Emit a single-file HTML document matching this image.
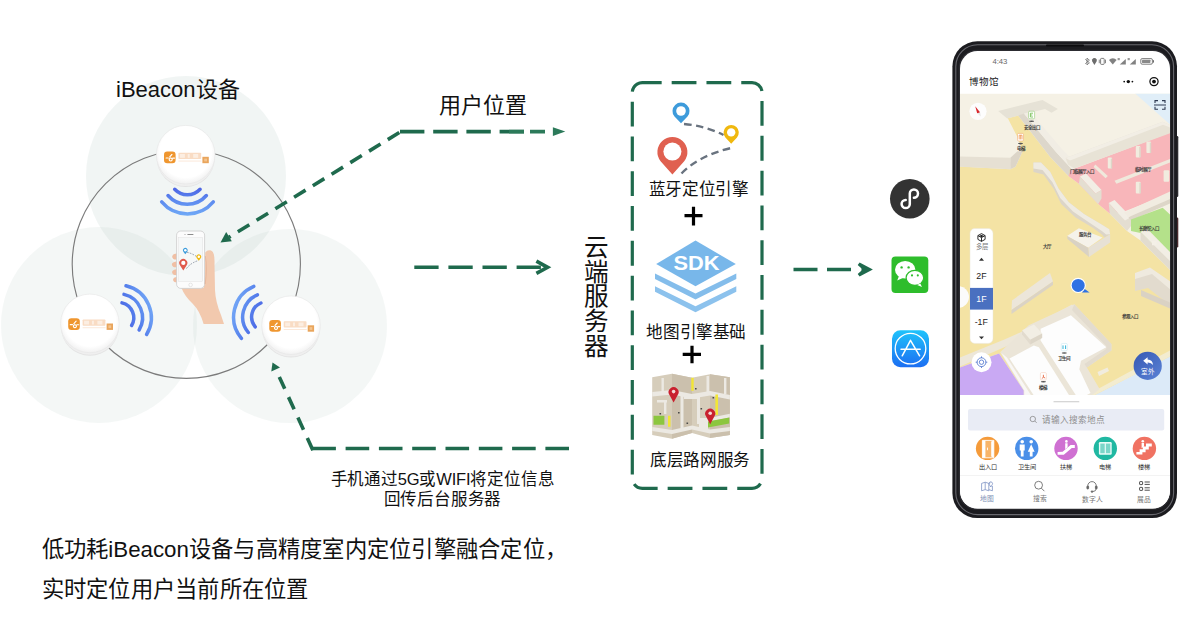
<!DOCTYPE html>
<html lang="zh-CN">
<head>
<meta charset="utf-8">
<title>iBeacon 室内定位方案</title>
<style>
html,body{margin:0;padding:0;background:#fff;}
body{width:1199px;height:623px;position:relative;overflow:hidden;font-family:"Liberation Sans",sans-serif;color:#111;}
#art{position:absolute;left:0;top:0;width:1199px;height:623px;}
.t{position:absolute;white-space:nowrap;line-height:1;color:#111;}
svg text{font-family:"Liberation Sans",sans-serif;}
</style>
</head>
<body>
<svg id="art" width="1199" height="623" viewBox="0 0 1199 623">
<defs>
  <linearGradient id="wifiT" gradientUnits="userSpaceOnUse" x1="187" y1="186" x2="187" y2="215">
    <stop offset="0" stop-color="#4a5ee2"/><stop offset="0.45" stop-color="#5b86ee"/><stop offset="1" stop-color="#6fa8f6"/>
  </linearGradient>
  <linearGradient id="wifiL" gradientUnits="userSpaceOnUse" x1="118" y1="318" x2="150" y2="306">
    <stop offset="0" stop-color="#4a5ee2"/><stop offset="0.55" stop-color="#5580ec"/><stop offset="1" stop-color="#6fa2f5"/>
  </linearGradient>
  <linearGradient id="wifiR" gradientUnits="userSpaceOnUse" x1="267" y1="317" x2="235" y2="307">
    <stop offset="0" stop-color="#4a5ee2"/><stop offset="0.55" stop-color="#5580ec"/><stop offset="1" stop-color="#6fa2f5"/>
  </linearGradient>
  <radialGradient id="discG" cx="0.5" cy="0.45" r="0.55">
    <stop offset="0.8" stop-color="#ffffff"/><stop offset="1" stop-color="#f1f1f1"/>
  </radialGradient>
  <g id="bdisc">
<circle cx="0" cy="3.300" r="29" fill="#e3e3e3"/>
    <circle cx="0" cy="2.200" r="29.200" fill="#efefef"/>
    <circle cx="0" cy="0" r="29.300" fill="url(#discG)" stroke="#e6e6e6" stroke-width="0.600"/>
  </g>
  <g id="blogo">
    <rect x="-21.700" y="-5.100" width="11.600" height="11.600" rx="3.200" fill="#ef962f"/>
    <path d="M-19.600 1.300 h2.200 m2.400 0 a1.500 1.500 0 1 0 0.010 0 m-1 -1.100 l2.200 -2.400 m0.800 3.600 h1.800" stroke="#fff" stroke-width="1.150" fill="none" stroke-linecap="round"/>
    <rect x="-7.300" y="-3.900" width="22.800" height="6.200" rx="0.800" fill="#f9dcc4"/>
    <rect x="-5.800" y="-2.700" width="5" height="3.800" fill="#fdf3ea" opacity="0.800"/><rect x="2" y="-2.700" width="2" height="3.800" fill="#fdf3ea" opacity="0.800"/><rect x="7.500" y="-2.700" width="5" height="3.800" fill="#fdf3ea" opacity="0.800"/>
    <rect x="-7.300" y="3.900" width="23" height="0.900" fill="#fbe6d5"/>
    <rect x="16.700" y="0.100" width="6.400" height="6.400" fill="#e9a55c"/>
    <rect x="18.500" y="1.900" width="2.800" height="2.800" fill="#f3c48f"/>
  </g>
</defs>

<!-- ===== left cluster : coverage circles ===== -->
<g id="coverage">
  <circle cx="186" cy="176" r="100" fill="#b5c9c2" fill-opacity="0.19"/>
  <circle cx="99" cy="325" r="98" fill="#b5c9c2" fill-opacity="0.15"/>
  <circle cx="290" cy="326" r="97" fill="#b5c9c2" fill-opacity="0.15"/>
  <circle cx="186.300" cy="264.300" r="114.100" fill="none" stroke="#7b7b7b" stroke-width="1.150"/>
</g>

<!-- beacons -->
<use href="#bdisc" x="185.700" y="154.700"/><use href="#blogo" x="185.700" y="156.700"/>
<use href="#bdisc" x="89.900" y="323.400"/><use href="#blogo" x="89.900" y="323.400"/>
<use href="#bdisc" x="291" y="325.200"/><use href="#blogo" x="291" y="325.200"/>

<!-- wifi arcs -->
<g id="wifi" fill="none" stroke-width="3.500" stroke-linecap="round">
  <g stroke="url(#wifiT)">
    <path d="M174.7 189.3 A17.4 17.4 0 0 0 200.1 189.3"/>
    <path d="M168.0 195.5 A25.4 25.4 0 0 0 206.4 195.5"/>
    <path d="M161.7 201.9 A33.7 33.7 0 0 0 213.3 201.9"/>
  </g>
  <g stroke="url(#wifiL)">
    <path d="M122.0 302.9 A15.2 15.2 0 0 1 131.6 325.5"/>
    <path d="M124.0 294.4 A23.9 23.9 0 0 1 139.1 330.0"/>
    <path d="M126.0 285.8 A32.7 32.7 0 0 1 146.6 334.5"/>
  </g>
  <g stroke="url(#wifiR)">
    <path d="M255.2 326.8 A15.2 15.2 0 0 1 260.9 303.0"/>
    <path d="M248.3 332.5 A24.1 24.1 0 0 1 257.4 294.8"/>
    <path d="M241.4 338.3 A33.2 33.2 0 0 1 253.8 286.4"/>
  </g>
</g>

<!-- hand + phone -->
<g id="hand">
  <path d="M181.500 288 L203.500 288 L206 262 Q206.500 251 210.500 250.500 Q215 251 214.500 264 L215 290 Q215.500 302 221 315 L224 324 L203.600 324 Q200 311 192.500 303.500 Q184.500 296 181.500 288Z" fill="#f2c9ae"/>
  <path d="M177.200 253.600 q-5.300 0.400 -5 3.300 q0.400 2.900 5 2.500z M177.200 261.400 q-5.600 0.400 -5.300 3.300 q0.400 2.900 5.300 2.500z M177.200 269.200 q-5.400 0.400 -5.100 3.300 q0.400 2.900 5.100 2.500z M177.400 277 q-4.600 0.400 -4.300 3 q0.400 2.600 4.300 2.300z" fill="#f0bfa4"/>
  <rect x="176.600" y="231" width="28" height="57.400" rx="4.200" fill="#fcfcfc" stroke="#cbcbcb" stroke-width="0.800"/>
  <rect x="178.700" y="237.700" width="24" height="43.500" fill="#f6f8f8" stroke="#dcdcdc" stroke-width="0.400"/>
  <rect x="187.300" y="233.900" width="6.200" height="1" rx="0.500" fill="#8d8d8d"/>
  <circle cx="185" cy="234.400" r="0.500" fill="#8d8d8d"/>
  <circle cx="190.600" cy="284.900" r="1.800" fill="none" stroke="#cfcfcf" stroke-width="0.500"/>
  <path d="M187 252.300 q5 1 10 4.500 M186.500 268.500 q4 -5.500 12 -8" stroke="#7a8594" stroke-width="0.800" stroke-dasharray="1.700 1.200" fill="none"/>
  <path d="M185.300 254.200 l-1.900 -2.400 a2.400 2.400 0 1 1 3.800 0z" fill="#3b9bdc"/>
  <circle cx="185.300" cy="250.300" r="1.250" fill="#fff"/>
  <path d="M198.800 260.700 l-1.900 -2.400 a2.400 2.400 0 1 1 3.800 0z" fill="#f0b90f"/>
  <circle cx="198.800" cy="256.800" r="1.250" fill="#fff"/>
  <path d="M183.300 270.600 l-3.200 -5.200 a4 4 0 1 1 6.400 0z" fill="#e05a4c"/>
  <circle cx="183.300" cy="262.900" r="2.100" fill="#fff"/>
  <path d="M205.200 252.500 Q208 249 211.500 251 Q214.500 254 213.800 264 L213.800 284 Q209 288.500 204.900 286.500Z" fill="#f2c9ae"/>
  <path d="M205.300 256 Q207.500 268 205.200 284" fill="none" stroke="#e3b095" stroke-width="0.700"/>
</g>

<!-- ===== arrows ===== -->
<g id="arrows" fill="none" stroke="#1f6a4d" stroke-width="3.6">
  <!-- user position : diagonal + horizontal -->
  <path d="M401 131.500 L229 237.200" stroke-dasharray="13.500 8.500" stroke-dashoffset="-2"/>
  <path d="M220.500 242.400 l11.300 -1.200 l-5.600 -9.200z" fill="#1f6a4d" stroke="none"/>
  <path d="M400 131.600 H524" stroke-dasharray="24.400 8.800"/>
  <path d="M509 131.600 H524 M530 131.600 H545" stroke="#2c7a5a"/>
  <path d="M565.300 131.600 l-12.400 -4.300 v8.600z" fill="#2c7a5a" stroke="none"/>
  <!-- middle arrow -->
  <path d="M414.300 267.300 H546" stroke-dasharray="24.300 9.800"/>
  <path d="M536.400 261.200 L547.600 267.300 L536.400 273.400" stroke-linejoin="miter"/>
  <!-- return arrow -->
  <path d="M569 448.500 H312.300" stroke-dasharray="23.600 9.700"/>
  <path d="M312.900 450.200 L279.300 377" stroke-dasharray="13.400 9.100"/>
  <path d="M272.500 362.400 L271.300 371.400 L280 367.400Z" fill="#1f6a4d" stroke="none"/>
  <!-- to phone -->
  <path d="M793.500 269.500 H852" stroke-dasharray="24 9.500"/>
  <path d="M872.900 269.500 l-13.300 -7.100 l-1.900 2.700 l5 4.400 l-5 4.400 l1.900 2.700z" fill="#1f6a4d" stroke="none"/><path d="M861.500 269.500 H868" />
</g>

<!-- ===== cloud services box ===== -->
<path d="M637.07 84.07 A10 10 0 0 1 642.30 82.60 H752.00 A10 10 0 0 1 762.00 92.60 V478.30 A10 10 0 0 1 752.00 488.30 H642.30 A10 10 0 0 1 632.30 478.30 V92.60 A10 10 0 0 1 637.07 84.07" fill="none" stroke="#1f6a4d" stroke-width="3.200" stroke-dasharray="24.800 10"/>

<!-- bluetooth positioning engine icon -->
<g id="pins">
  <path d="M684 124 Q706 126 723.500 135" fill="none" stroke="#69737f" stroke-width="2.400" stroke-dasharray="7.500 4.500"/>
  <path d="M681.500 173.500 Q699 155.500 731 148" fill="none" stroke="#69737f" stroke-width="2.400" stroke-dasharray="7.500 4.500"/>
  <path d="M681 123.300 L674.500 116.600 A8.500 8.500 0 1 1 687.500 116.600Z" fill="#3d9bdb"/>
  <circle cx="681" cy="111" r="4.800" fill="#fff"/>
  <path d="M731.200 143.800 L725.400 137.400 A7.600 7.600 0 1 1 737 137.400Z" fill="#f0b80e"/>
  <circle cx="731.200" cy="132.400" r="4.200" fill="#fff"/>
  <path d="M672.400 174.500 L660.600 161.300 A15 15 0 1 1 684.200 161.300Z" fill="#e06050"/>
  <circle cx="672.400" cy="151.600" r="9" fill="#fff"/>
</g>

<!-- plus signs -->
<path d="M684.500 215.700 H702.500 M693.500 206.700 V225.400 M682.700 354.300 H701 M692 345.800 V363.200" stroke="#000" stroke-width="3.200" fill="none"/>

<!-- SDK icon -->
<g id="sdk">
  <path d="M695.500 240.600 L735.800 264 L695.500 286.300 L656.200 264Z" fill="#78b7ea"/>
  <path d="M655 273.500 L695.500 293.500 L736.300 273.500 L736.300 279 L695.500 299.500 L655 279Z" fill="#84bdeb"/>
  <path d="M655 286.300 L695.500 306.300 L736.300 286.300 L736.300 291.800 L695.500 312.300 L655 291.800Z" fill="#8cc2ed"/>
  <text x="696.600" y="270.400" font-size="20" font-weight="bold" fill="#fff" text-anchor="middle" textLength="46" lengthAdjust="spacingAndGlyphs">SDK</text>
</g>

<!-- road network map icon -->
<g id="roadmap">
  <path d="M652.200 377.200 L672 373.700 L692 377.800 L710 374.200 L729.900 377.200 L729.900 435 L710 438 L692 433 L672 438.800 L652.200 435Z" fill="#d6cdbb"/>
  <path d="M672 373.700 L692 377.800 L692 433 L672 438.800Z M710 374.200 L729.900 377.200 L729.900 435 L710 438Z" fill="#cbc0ad"/>
  <path d="M652.200 392 L672 390 L692 394 L710 391 L729.900 395 V399.500 L710 395.500 L692 398.500 L672 394.500 L652.200 396.500Z" fill="#ece9e3"/>
  <path d="M652.200 427 L672 430 L692 425.500 L710 429.500 L729.900 427 V431 L710 433.500 L692 429.500 L672 434 L652.200 431Z" fill="#ece9e3"/>
  <path d="M661.500 378 h2.400 v14 h-2.400z M680.500 396 h3 v32 h-3z M684 396 h14 v3 h-14z M697 396 h3 v28 h-3z M698 419 h10 v3 h-10z M706.500 376 h2.600 v16 h-2.600z M724 378 h2.400 v16 h-2.400z M657 400 h10 v2.400 h-10z M664 402 h2.400 v12 h-2.400z" fill="#ece9e3"/>
  <path d="M699 418 h9 v11 h-9z M708 418.200 L729.900 413.800 V417.600 L708 421.800Z" fill="#ece9e3"/>
  <path d="M653.500 415.700 H664.400 V424.700 H653.500Z M708 421.500 L729.200 417.500 V423.500 L708 427.500Z" fill="#8cc63f"/>
  <path d="M691.300 377.800 h2.400 v13 h-2.400z M715.400 394.500 h2.600 v20.500 h-2.600z M668 415.700 h2.500 v11 h-2.500z" fill="#f2e635"/>
  <path d="M673.600 402.400 L669.500 395 A5 5 0 1 1 677.700 395Z M710.200 424.200 L706.100 416.600 A5 5 0 1 1 714.300 416.600Z" fill="#c9202e"/>
  <circle cx="673.600" cy="391.600" r="1.800" fill="#f3d9d6"/>
  <circle cx="710.200" cy="413.200" r="1.800" fill="#f3d9d6"/>
  <path d="M695 388h1.600v1.600h-1.600z M712.500 397h1.600v1.600h-1.600z M700.500 408h1.600v1.600h-1.600z M659.500 413h1.600v1.600h-1.600z M678 412h1.600v1.600h-1.600z M686.500 422.500h1.600v1.600h-1.600z" fill="#4a4a4a"/>
</g>

<!-- ===== app icons ===== -->
<g id="appicons">
  <circle cx="909.800" cy="198.800" r="19.800" fill="#333333"/>
  <path d="M909.800 204 V193.600 a4.100 4.100 0 1 1 4.100 4.100 M909.800 193.600 V204 a4.100 4.100 0 1 1 -4.100 -4.100" fill="none" stroke="#fff" stroke-width="2.500" stroke-linecap="round"/>
  <rect x="891.500" y="256.500" width="36.800" height="36.500" rx="4" fill="#2ebd2c"/>
  <ellipse cx="905.200" cy="269.700" rx="10.200" ry="8.800" fill="#fff"/>
  <path d="M899 276 l-1.800 4.600 l5.600 -2.600z" fill="#fff"/>
  <ellipse cx="914.900" cy="277.800" rx="8.800" ry="7.500" fill="#fff" stroke="#2ebd2c" stroke-width="1.200"/>
  <path d="M920.300 283.600 l1.700 3.400 l-4.800 -1.900z" fill="#fff"/>
  <circle cx="901.600" cy="267.400" r="1.200" fill="#2ebd2c"/><circle cx="908.600" cy="267.400" r="1.200" fill="#2ebd2c"/>
  <circle cx="912" cy="275.400" r="1.050" fill="#2ebd2c"/><circle cx="917.800" cy="275.400" r="1.050" fill="#2ebd2c"/>
  <linearGradient id="asG" x1="0" y1="0" x2="0" y2="1"><stop offset="0" stop-color="#1fc3fb"/><stop offset="1" stop-color="#1c6ef2"/></linearGradient>
  <rect x="892" y="330.200" width="37" height="37" rx="8.500" fill="url(#asG)"/>
  <circle cx="910.500" cy="348.600" r="15.300" fill="none" stroke="#fff" stroke-width="1.300"/>
  <path d="M910.500 340.400 L902.200 355.800 M910.500 340.400 L919.600 355.800 M901 349.200 H920.200" stroke="#fff" stroke-width="1.500" fill="none" stroke-linecap="round"/>
</g>

<!-- ===== phone ===== -->
<g id="phone">
  <rect x="1175.500" y="136" width="2.800" height="61" rx="1.200" fill="#2a2a2e"/>
  <rect x="1175.500" y="217.500" width="2.800" height="30" rx="1.200" fill="#4a2a2e"/>
  <rect x="952.400" y="41.300" width="224.600" height="476.800" rx="25" ry="25" fill="#1b1b1f"/>
  <rect x="955.800" y="44.800" width="217.800" height="469.800" rx="21.800" ry="21.800" fill="none" stroke="#68686e" stroke-width="1.100"/>
  <rect x="958.600" y="49.800" width="212.600" height="460" rx="18.500" ry="18.500" fill="#2c2c31"/>
  <clipPath id="scr"><rect x="960" y="51" width="210" height="457.600" rx="17.500" ry="17.500"/></clipPath>
  <g clip-path="url(#scr)">
    <rect x="960" y="51" width="210" height="458" fill="#fff"/>
    <g id="map">
      <clipPath id="mapclip"><rect x="960" y="93.700" width="210" height="301.300"/></clipPath>
      <g clip-path="url(#mapclip)">
      <rect x="960" y="92" width="210" height="304" fill="#f5f1e5"/>
      <!-- blue sky patch top right -->
      <path d="M1133.500 92 L1171 92 L1171 125.500 Z" fill="#e0eef8"/>
      <!-- yellow hall floor -->
      <path d="M1007.800 118.200 L1018.100 115.400 L1050 156.700 L1068.300 176 L1078.900 183.700 L1098.200 203.900 L1109.700 213.600 L1127 230.900 L1140.500 240.500 L1165.600 265.600 L1171 271 L1171 357 L1131 376.500 L1095.600 396 L1023.800 396 L1023.800 390.600 L999 353.500 L960 367.600 L960 166.500 L1010.400 169.300 L1015.500 166.800 L1022.600 151.300 L1017.500 137.200 Z" fill="#f4e3a4"/>
      <!-- upper-left block side faces -->
      <path d="M960 156.500 L1010.400 157.800 L1010.400 169.300 L960 166.800 Z" fill="#e6e0d3"/>
      <path d="M1010.400 157.800 L1017.500 151.300 L1022.600 151.300 L1015.500 166.800 L1010.400 169.300 Z" fill="#dcd5c8"/>
      <!-- top wall band -->
      <path d="M998.200 110.900 L1042.500 100 L1057.900 109 L1051.500 112.800 L1045 109 L1007.200 118.600 Z" fill="#e6e2d6"/>
      <!-- long diagonal wall W1 : face + top -->
      <path d="M1018.100 115.400 L1023.900 113.500 L1056 152 L1074 171.500 L1068.300 176 L1050 156.700 Z" fill="#ddd7cb"/>
      <path d="M1023.900 113.500 L1030.500 112 L1062 149 L1080 168 L1074 171.500 L1056 152 Z" fill="#f1ede4"/>
      <!-- pink hall -->
      <path d="M1071 170 L1171 132 L1171 193 L1123 212 L1109.700 213.600 L1098.200 203.900 L1078.900 183.700 L1068.300 176 Z" fill="#f8b6ba"/>
      <!-- pink top wall band -->
      <path d="M1065.600 158 L1162.600 121.800 L1171 125.300 L1171 133 L1074.400 168.500 L1068 164.500 Z" fill="#e8e3d6"/>
      <path d="M1065.600 158 L1162.600 121.800 L1171 125.300 L1171 127.800 L1163 124.800 L1070 160.500 Z" fill="#f2eee5"/>
      <!-- pink interior walls / pillars -->
      <path d="M1114.500 180.800 L1171 158.500 L1171 162 L1116.500 183.800 Z" fill="#efe9dc"/>
      <path d="M1095.300 164.400 L1107.800 176 L1105.600 178.200 L1093.600 167 Z" fill="#efe9dc"/>
      <g fill="#f1ecdf">
        <rect x="1107.800" y="157.600" width="4.200" height="11" rx="1"/>
        <rect x="1135.800" y="146" width="4.600" height="11.400" rx="1"/>
        <rect x="1146.400" y="141.600" width="4.600" height="11.400" rx="1"/>
        <rect x="1163.600" y="170.200" width="5.600" height="11.600" rx="1"/>
        <rect x="1135.800" y="181.800" width="4.800" height="11.600" rx="1"/>
      </g>
      <g fill="#ddd6c8">
        <rect x="1110.800" y="158.600" width="1.400" height="10"/>
        <rect x="1139.200" y="147" width="1.400" height="10.400"/>
        <rect x="1149.800" y="142.600" width="1.400" height="10.400"/>
        <rect x="1139.400" y="182.800" width="1.400" height="10.600"/>
      </g>
      <!-- wall block W2 -->
      <path d="M1079.900 176.500 L1086 173.500 L1101.500 190 L1095.500 193.500 Z" fill="#f2eee5"/>
      <path d="M1079.900 176.500 L1095.500 193.500 L1101.500 190 L1101.500 198.500 L1098.200 203.900 L1078.900 183.700 Z" fill="#e4ded1"/>
      <!-- wall block W3 -->
      <path d="M1108.700 203 L1114.500 200 L1131 217 L1125 220.500 Z" fill="#f2eee5"/>
      <path d="M1108.700 203 L1125 220.500 L1131 217 L1131 226 L1127 230.900 L1109.700 213.600 Z" fill="#e4ded1"/>
      <!-- wall separating pink / green -->
      <path d="M1124.200 212.600 L1170.400 191.400 L1171 198.500 L1131 216 L1128.500 217.500 Z" fill="#f1ece1"/>
      <path d="M1128.500 217.500 L1131 216 L1171 198.500 L1171 203 L1131 220.500 Z" fill="#ddd6c8"/>
      <!-- green hall -->
      <path d="M1131 219.500 L1162.700 207.800 L1171 215.500 L1171 259 L1140.500 233 L1131 230.900 Z" fill="#b4e18a"/>
      <!-- wall W4 along bottom of green -->
      <path d="M1140.500 232 L1147 228.500 L1171 253 L1171 262 Z" fill="#f2eee5"/>
      <path d="M1140.500 232 L1171 262 L1171 271 L1165.600 265.600 L1140.500 240.500 Z" fill="#e2dccf"/>
      <path d="M1152 240.800 h4.500 v4.500 h-4.500z" fill="#f4f0e7"/>
      <!-- winding ramp -->
      <path d="M1033.4 162.6 L1041.0 162.6 L1050.3 171.9 L1058.7 188.7 L1068.8 202.2 L1084.0 214.0 L1100.8 224.1 L1109.3 229.2 L1110.1 234.2 L1104.2 237.6 L1102.5 235.0 L1092.4 227.5 L1075.6 217.4 L1061.2 203.9 L1053.7 188.7 L1043.5 174.4 L1033.4 171.9 Z" fill="#dcd5c8"/>
      <path d="M1033.4 162.6 L1041.0 162.6 L1050.3 171.9 L1058.7 188.7 L1068.8 202.2 L1084.0 214.0 L1100.8 224.1 L1109.3 229.2 L1110.1 234.2 L1106.1 234.4 L1101.9 230.9 L1089.2 222.4 L1073.0 211.6 L1060.2 198.1 L1052.4 182.3 L1042.5 169.9 L1033.4 168.4 Z" fill="#efebe1"/>
      <!-- service desk -->
      <path d="M1067.100 235.900 L1078.900 228.300 L1102.500 237.600 L1088.200 247.700 Z" fill="#f5f2ea"/>
      <path d="M1088.200 247.700 L1110.100 234.200 L1110.100 242.600 L1089 257 Z" fill="#e7e1d5"/>
      <path d="M1067.100 235.900 L1088.200 247.700 L1089 257 L1067.500 239 Z" fill="#d9d2c4"/>
      <!-- low wall bottom-left of hall -->
      <path d="M1012 300.500 L1050 273 L1053 281.500 L1011.500 310 Z" fill="#ece6da"/>
      <path d="M1011.500 310 L1053 281.500 L1053 285 L1011.500 314 Z" fill="#dbd3c5"/>
      <!-- right-bottom walls -->
      <path d="M1135 273 L1150 267.500 L1171 282 L1171 296 L1156 286 L1135 290 Z" fill="#efeadf"/>
      <path d="M1135 279 L1152 274 L1171 290 L1171 306 L1148 288 L1135 291 Z" fill="#e2dbce"/>
      <path d="M1141 290 L1171 303 L1171 309 L1141 296 Z" fill="#dad2c4"/>
      <!-- road band left -->
      <path d="M960 357.500 L1004.400 339.400 L1020.300 332.400 L1072 304.600 L1078 311 L1006 346.500 L960 366.500 Z" fill="#ede7d9"/>
      <!-- purple -->
      <path d="M960 367.600 L999 353.500 L1023.800 390.600 L1023.800 396 L960 396 Z" fill="#c9a9f3"/>
      <!-- light blue bottom right -->
      <path d="M1171 356 L1131 376.500 L1093 396 L1171 396 Z" fill="#dceaf8"/>
      <path d="M1171 350 L1131 371 L1085 396 L1093 396 L1131 376.500 L1171 356 Z" fill="#f3ecd0"/>
      <!-- restroom building : outer wall -->
      <path d="M1000.100 352.300 L1028.800 325.300 L1074.300 304.300 L1111.400 343.900 L1111.400 350.600 L1086.900 367.500 L1099.600 389 L1091 396 L1023.800 396 L1023.800 390.600 Z" fill="#ebe5d8"/>
      <path d="M1074.300 304.300 L1111.400 343.900 L1111.400 350.600 L1086.900 367.500 L1084.500 364 L1106.300 349 L1106.300 346 L1072 310 Z" fill="#e3dccf"/>
      <!-- white ground strip left of building -->
      <path d="M1001.200 352.800 L1006.900 357.400 L1031.500 396 L1024.300 396 L1024.300 390.400 Z" fill="#f9f7f5"/>
      <!-- left room -->
      <path d="M1009.500 358.500 L1033.800 345.600 L1038.900 347.200 L1069.600 396 L1034.200 396 Z" fill="#fdfdfd"/>
      <!-- right room -->
      <path d="M1040.600 328.700 L1070.900 315.200 L1106.300 347.300 L1081 360.700 L1079.300 369.200 L1090.500 393 L1085 396 L1076.400 396 L1040.600 340.500 Z" fill="#fdfdfd"/>
      <!-- bump block -->
      <path d="M1022 330.200 L1034 324.600 L1042.200 333.400 L1030.200 339.800 Z" fill="#f2eee4"/>
      <path d="M1030.200 339.800 L1042.200 333.400 L1042.200 338 L1030.200 344.600 Z" fill="#ddd6c8"/>
      <path d="M1022 330.200 L1030.200 339.800 L1030.200 344.600 L1022 334.600 Z" fill="#e2dbce"/>
      <!-- step near notch -->
      <path d="M1097.500 372 L1107.500 367.500 L1109 371 L1099 376 Z" fill="#f1ecdf"/>
      <!-- hidden round button left -->
      <circle cx="958" cy="297" r="11" fill="#fbfbfb"/>
      <!-- POI icons + labels -->
      <g id="poi">
        <ellipse cx="1031.600" cy="121.300" rx="2.600" ry="0.800" fill="#555"/>
        <rect x="1028.600" y="111.200" width="6" height="7.600" rx="1.200" fill="#fff" stroke="#7cc35a" stroke-width="0.500"/>
        <path d="M1030.400 113.200 h2.600 M1030.400 113.200 v3.800 h2.600 M1030.400 115 h2" stroke="#6dbb4a" stroke-width="0.800" fill="none"/>
        <ellipse cx="1020.500" cy="143.600" rx="2.600" ry="0.800" fill="#555"/>
        <rect x="1017.500" y="133.400" width="6" height="7.600" rx="1.200" fill="#fff" stroke="#f0a060" stroke-width="0.500"/>
        <path d="M1019.200 139.400 v-4.200 h2.800 v4.200 M1020.600 135.200 v4.200" stroke="#ee8a3c" stroke-width="0.700" fill="none"/>
        <ellipse cx="1064.300" cy="353" rx="2.600" ry="0.800" fill="#555"/>
        <rect x="1061.300" y="343.400" width="6" height="7.400" rx="1.200" fill="#fff" stroke="#bfe3ef" stroke-width="0.500"/>
        <path d="M1063 345.400 v3.600 M1065.600 345.400 v3.600" stroke="#35b4d8" stroke-width="1" fill="none"/>
        <ellipse cx="1043.400" cy="381.800" rx="2.600" ry="0.800" fill="#555"/>
        <rect x="1040.400" y="372.600" width="6" height="7.400" rx="1.200" fill="#fff" stroke="#f3c7b0" stroke-width="0.500"/>
        <path d="M1041.800 378.600 l1.600 -1.400 v-2.400 M1043.400 377.200 l1.800 0.800" stroke="#e2572d" stroke-width="0.800" fill="none"/>
        <g font-size="4.500" font-weight="bold" fill="#3a3a3a" text-anchor="middle">
          <text x="1032" y="129.300">安全出口</text>
          <text x="1020.500" y="150.200">电梯</text>
          <text x="1082" y="173.300">门临展厅入口</text>
          <text x="1142.500" y="170.700">临时展厅</text>
          <text x="1149" y="229.800">长廊馆入口</text>
          <text x="1085.200" y="236.300">服务台</text>
          <text x="1046.700" y="247.700">大厅</text>
          <text x="1130" y="317.700">参观入口</text>
          <text x="1064.300" y="360.300">卫生间</text>
          <text x="1043.200" y="389.300">楼梯</text>
        </g>
      </g>
      </g>
    </g>
    <g id="ui">
      <!-- status bar -->
      <text x="992.400" y="63.900" font-size="7.700" fill="#666">4:43</text>
      <g fill="#5c5c5c" stroke="none" opacity="0.900">
        <path d="M1087 58.200 l2.400 2 l-4.200 3.600 M1087 64.800 l2.400 -2 l-4.200 -3.600 M1087 58 v7" fill="none" stroke="#4d4d4d" stroke-width="0.700"/>
        <path d="M1094.400 65 l-2.100 -3.400 a2.400 2.400 0 1 1 4.200 0z"/>
        <rect x="1100.600" y="58.400" width="3.600" height="6" rx="0.800" fill="none" stroke="#4d4d4d" stroke-width="0.800"/>
        <rect x="1098.800" y="59.600" width="0.800" height="3.600"/><rect x="1105.200" y="59.600" width="0.800" height="3.600"/>
        <path d="M1109 60 a5.200 5.200 0 0 1 7.600 0 l-3.800 4.600z" opacity="0.850"/>
        <path d="M1119.800 64.600 h6 v-5.600z" opacity="0.850"/>
        <path d="M1129.800 64.600 h6 v-5.600z" opacity="0.850"/>
        <rect x="1117.600" y="58" width="2.200" height="2.200" opacity="0.700"/><rect x="1127.600" y="58" width="2.200" height="2.200" opacity="0.700"/>
        <rect x="1140.800" y="58.600" width="11.600" height="5.600" rx="1.300" fill="none" stroke="#4d4d4d" stroke-width="0.800"/>
        <rect x="1142" y="59.800" width="8.400" height="3.200" rx="0.400" opacity="0.800"/>
        <rect x="1153" y="60.200" width="1" height="2.400"/>
      </g>
      <!-- header -->
      <text x="969.200" y="84.900" font-size="9.500" font-weight="500" fill="#1b1b1b">博物馆</text>
      <circle cx="1124.200" cy="81.600" r="0.900" fill="#111"/><circle cx="1128.300" cy="81.600" r="1.700" fill="#111"/><circle cx="1132.400" cy="81.600" r="0.900" fill="#111"/>
      <circle cx="1154" cy="81.600" r="4.100" fill="none" stroke="#111" stroke-width="1.250"/><circle cx="1154" cy="81.600" r="1.900" fill="#111"/>
      <!-- compass -->
      <circle cx="978" cy="111.300" r="8.600" fill="#fdfdfd"/>
      <path d="M975.200 106.200 L980.200 112.600 L977.200 113.200 Z" fill="#d8262c"/>
      <path d="M980.200 112.600 L977.200 113.200 L980.800 116.600 Z" fill="#e8e8e8"/>
      <!-- scan icon -->
      <path d="M1155 103 V100.600 H1158 M1162 100.600 H1165 V103 M1165 106.800 V109.200 H1162 M1158 109.200 H1155 V106.800 M1154 105 H1166" fill="none" stroke="#2f3b52" stroke-width="1.100"/>
      <!-- floor selector -->
      <rect x="970" y="228.600" width="23" height="114.800" rx="4.600" fill="#fff"/>
      <rect x="970" y="228.600" width="23" height="114.800" rx="4.600" fill="none" stroke="#e9e4d6" stroke-width="0.500"/>
      <path d="M981.500 233.600 l3.600 2 v3.800 l-3.600 2 l-3.600 -2 v-3.800z M977.900 235.600 l3.600 2 l3.600 -2 M981.500 237.600 v3.800" fill="none" stroke="#222" stroke-width="0.950" stroke-linejoin="round"/>
      <path d="M981.500 234.800 l2.300 1.200 l-2.300 1.200 l-2.300 -1.200z" fill="#222"/>
      <text x="981.500" y="249.200" font-size="6.400" fill="#777" text-anchor="middle">多层</text>
      <path d="M979 260.700 h5 l-2.500 -2.900z" fill="#333"/>
      <text x="981.500" y="279.200" font-size="8.800" fill="#222" text-anchor="middle">2F</text>
      <rect x="970" y="287.900" width="23" height="21.700" fill="#4a70c0"/>
      <text x="981.500" y="301.900" font-size="8.800" fill="#fff" text-anchor="middle">1F</text>
      <text x="981.300" y="324.900" font-size="8.800" fill="#222" text-anchor="middle">-1F</text>
      <path d="M979 336.400 h5 l-2.500 2.900z" fill="#333"/>
      <!-- locate button -->
      <circle cx="981.500" cy="362.200" r="10" fill="#fff"/>
      <circle cx="981.500" cy="362.200" r="4.400" fill="none" stroke="#5b7fd0" stroke-width="0.900"/>
      <circle cx="981.500" cy="362.200" r="2.200" fill="none" stroke="#5b7fd0" stroke-width="0.900"/>
      <path d="M981.500 356.400 v1.600 M981.500 366.400 v1.600 M975.700 362.200 h1.600 M985.700 362.200 h1.600" stroke="#5b7fd0" stroke-width="0.900"/>
      <!-- location dot -->
      <path d="M1084 288.500 L1089.600 292.400 L1082 292.400 Z" fill="#2f72e4"/>
      <circle cx="1078.200" cy="285.400" r="7.600" fill="#fff"/>
      <circle cx="1078.200" cy="285.400" r="6.500" fill="#2f72e4"/>
      <!-- outdoor button -->
      <linearGradient id="outG" x1="0" y1="0" x2="1" y2="1"><stop offset="0" stop-color="#3558b3"/><stop offset="1" stop-color="#5c83d6"/></linearGradient>
      <circle cx="1147.700" cy="365.900" r="14.100" fill="url(#outG)"/>
      <path d="M1143.200 360.800 l4.400 -3.600 v2.200 q5.200 0.200 5.400 5.600 q-1.800 -2.800 -5.400 -2.600 v2z" fill="#fff"/>
      <text x="1147.700" y="374.200" font-size="6.600" fill="#fff" text-anchor="middle">室外</text>
      <!-- bottom sheet -->
      <rect x="960" y="395" width="210" height="115" fill="#fff"/>
      <rect x="1053.400" y="401.200" width="26" height="1.100" rx="0.550" fill="#c9c9c9"/>
      <rect x="968" y="409" width="196.200" height="21.400" rx="2" fill="#e9ecf5"/>
      <circle cx="1032.800" cy="419" r="2.700" fill="none" stroke="#8a8a8a" stroke-width="0.800"/>
      <path d="M1034.800 421 l1.900 1.900" stroke="#8a8a8a" stroke-width="0.800"/>
      <text x="1042.200" y="422.800" font-size="8.650" fill="#8e8e8e">请输入搜索地点</text>
      <!-- category icons -->
      <circle cx="987.600" cy="448.400" r="11.700" fill="#f59b3a"/>
      <path d="M982.400 440.400 h11.400 v17.400 h-11.400z" fill="#f8b56a"/><path d="M982.400 440.400 h3 v17.400 h-3z" fill="#fff"/><path d="M991.200 441.600 l2.600 -1.200 v17.400 l-2.600 -1.200z" fill="#fff"/><path d="M982.400 440.400 h11.400 v17.400 h-11.400z" fill="none" stroke="#fff" stroke-width="0.900"/><rect x="987" y="447.600" width="0.900" height="2.600" fill="#fff"/>
      <circle cx="1026.700" cy="448.400" r="11.700" fill="#4a8fe8"/>
      <circle cx="1022.200" cy="441.800" r="1.800" fill="#fff"/><path d="M1019.700 444.400 h5 v6.200 h-1.100 v6 h-2.800 v-6 h-1.100z" fill="#fff"/>
      <circle cx="1031.200" cy="441.800" r="1.800" fill="#fff"/><path d="M1031.200 444.200 l3.400 7.600 h-2 v4.800 h-2.800 v-4.800 h-2z" fill="#fff"/>
      <circle cx="1066" cy="448.400" r="11.700" fill="#cf70d2"/>
      <path d="M1057.600 452 l5 -0.200 l8 -6.800 h4.200 v3 h-3 l-8 6.800 h-6.200z" fill="#fff"/><circle cx="1066.400" cy="441.400" r="1.300" fill="#fff"/><path d="M1065.200 443.200 h2.400 v4 l-2.400 2z" fill="#fff"/>
      <circle cx="1105.300" cy="448.400" r="11.700" fill="#20b8a2"/>
      <rect x="1098.900" y="442" width="12.800" height="12.800" rx="1.200" fill="#e9fbf8"/><rect x="1100.300" y="443.600" width="4.400" height="9.600" fill="#20b8a2" opacity="0.550"/><rect x="1105.900" y="443.600" width="4.400" height="9.600" fill="#20b8a2" opacity="0.550"/>
      <circle cx="1144.400" cy="448.400" r="11.700" fill="#f07262"/>
      <path d="M1136.400 454.600 v-2.600 h3.200 v-2.800 h3.200 v-2.800 h3.200 v-2.800 h5.800 v3 h-3 v2.800 h-3.200 v2.800 h-3.200 v2.400z" fill="#fff"/><circle cx="1142.800" cy="441.200" r="1.300" fill="#fff"/><path d="M1141.600 443 h2.400 v3.600 l-2.400 1.600z" fill="#fff"/>
      <g font-size="6.200" fill="#2f2f2f" text-anchor="middle" font-weight="500">
        <text x="987.600" y="469">出入口</text><text x="1026.700" y="469">卫生间</text><text x="1066" y="469">扶梯</text><text x="1105.300" y="469">电梯</text><text x="1144.400" y="469">楼梯</text>
      </g>
      <rect x="960" y="475.200" width="210" height="0.600" fill="#ececec"/>
      <!-- tab bar -->
      <g fill="none" stroke="#7d93c4" stroke-width="0.800" stroke-linejoin="round">
        <path d="M981.600 483.400 l3.600 -1.200 l3.600 1.200 v7.400 l-3.600 -1.200 l-3.600 1.200z M985.200 482.200 v7.400 M988.800 483.400 l1.600 -0.600 M992.400 486 v4.800 l-3.600 -1.200"/>
        <path d="M990.800 487 l-1.500 -2.500 a1.750 1.750 0 1 1 3 0z"/>
      </g>
      <g fill="none" stroke="#666" stroke-width="0.850">
        <circle cx="1038.600" cy="485.200" r="3.900"/><path d="M1041.400 488.200 l3 3"/>
        <path d="M1087.800 487.400 v-1.600 a4.200 4.200 0 0 1 8.400 0 v1.600 M1096.200 488.600 q0 2.800 -3.600 3"/>
        <rect x="1086.900" y="486" width="1.700" height="3" rx="0.700" fill="#666"/><rect x="1095.400" y="486" width="1.700" height="3" rx="0.700" fill="#666"/>
        <circle cx="1092" cy="491.600" r="0.800" fill="#666"/>
      </g>
      <g fill="none" stroke="#444" stroke-width="0.950">
        <rect x="1139.600" y="481.600" width="3" height="3" rx="0.500"/><rect x="1139.600" y="487.400" width="3" height="3" rx="0.500"/>
        <path d="M1144.600 482 h5.200 M1144.600 484.400 h5.200 M1144.600 487.800 h5.200 M1144.600 490.200 h5.200"/>
      </g>
      <g font-size="6.800" text-anchor="middle">
        <text x="987.200" y="500.700" fill="#7d8fb4">地图</text>
        <text x="1039.500" y="500.700" fill="#777">搜索</text>
        <text x="1092" y="501.900" fill="#777">数字人</text>
        <text x="1144.400" y="501.900" fill="#777">展品</text>
      </g>
    </g>
  </g>
  <rect x="1046" y="44.600" width="38" height="1.800" rx="0.900" fill="#0c0c0e"/>
</g>
</svg>

<div class="t" style="left:116px;top:78.500px;font-size:22px;">iBeacon设备</div>
<div class="t" style="left:438.800px;top:94.600px;font-size:22px;">用户位置</div>
<div class="t" style="left:322px;top:468.500px;width:241px;text-align:center;font-size:16.500px;letter-spacing:-0.200px;line-height:20px;white-space:normal;">手机通过5G或WIFI将定位信息<br>回传后台服务器</div>
<div class="t" style="left:583.600px;top:235.600px;width:25px;font-size:24.600px;line-height:24.900px;white-space:normal;text-align:center;">云<br>端<br>服<br>务<br>器</div>
<div class="t" style="left:648.600px;top:182.400px;font-size:16.600px;letter-spacing:-0.350px;">蓝牙定位引擎</div>
<div class="t" style="left:646.400px;top:325px;font-size:16.600px;letter-spacing:-0.400px;">地图引擎基础</div>
<div class="t" style="left:650px;top:452.800px;font-size:16.600px;letter-spacing:-0.350px;">底层路网服务</div>
<div class="t" style="left:41.600px;top:538.800px;font-size:22.300px;letter-spacing:0.250px;">低功耗<span style="letter-spacing:0">iBeacon</span>设备与高精度室内定位引擎融合定位，</div>
<div class="t" style="left:41.600px;top:579px;font-size:22.300px;letter-spacing:0.250px;">实时定位用户当前所在位置</div>
</body>
</html>
